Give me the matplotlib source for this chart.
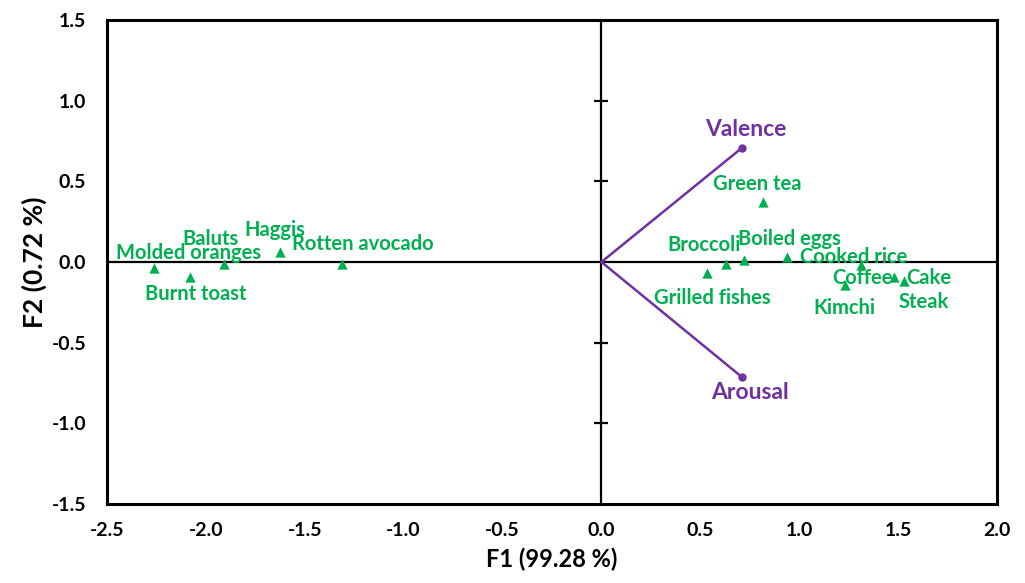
import matplotlib
matplotlib.use("Agg")
import matplotlib.pyplot as plt

plt.rcParams['font.family'] = ['Lato', 'DejaVu Sans']
plt.rcParams['font.weight'] = 'bold'

# Data
foods = ["Molded oranges", "Burnt toast", "Baluts", "Haggis", "Rotten avocado",
         "Green tea", "Grilled fishes", "Broccoli", "Boiled eggs", "Cooked rice",
         "Coffee", "Kimchi", "Cake", "Steak"]
f1 = [-2.26, -2.08, -1.91, -1.625, -1.31,
      0.817, 0.533, 0.63, 0.72, 0.94,
      1.31, 1.23, 1.48, 1.53]
f2 = [-0.04, -0.09, -0.01, 0.06, -0.01,
      0.37, -0.07, -0.01, 0.01, 0.03,
      -0.02, -0.14, -0.09, -0.12]

variables = ["Valence", "Arousal"]
var_f1 = [0.71, 0.71]
var_f2 = [0.707, -0.713]

xticks = [-2.5, -2.0, -1.5, -1.0, -0.5, 0.0, 0.5, 1.0, 1.5, 2.0]
yticks = [-1.5, -1.0, -0.5, 0.0, 0.5, 1.0, 1.5]

# label offsets in pixels (styling)
food_offsets = {
    "Molded oranges": (34, 15), "Burnt toast": (6, -17), "Baluts": (-13, 25),
    "Haggis": (-5, 22), "Rotten avocado": (20, 20), "Green tea": (-6, 18),
    "Grilled fishes": (5, -25), "Broccoli": (-22, 19), "Boiled eggs": (46, 21),
    "Cooked rice": (66, 0), "Coffee": (2, -13), "Kimchi": (0, -23),
    "Cake": (35, -1), "Steak": (20, -21),
}
var_offsets = {"Valence": (4, 18), "Arousal": (8, -15)}

GREEN = "#00B050"
PURPLE = "#7030A0"

fig = plt.figure(figsize=(10.25, 5.83), dpi=100)
ax = fig.add_axes([107/1025, 1 - 504/583, 890/1025, 484/583])
ax.set_xlim(-2.5, 2.0)
ax.set_ylim(-1.5, 1.5)

for s in ax.spines.values():
    s.set_linewidth(2.2)
    s.set_color("black")

ax.set_xticks(xticks)
ax.set_yticks(yticks)
ax.set_xticklabels([f"{v:.1f}" for v in xticks])
ax.set_yticklabels([f"{v:.1f}" for v in yticks])
ax.tick_params(axis='both', length=0, labelsize=14)
ax.tick_params(axis='x', pad=13)
ax.tick_params(axis='y', pad=15)

ax.axhline(0, color="black", lw=1.6, zorder=1)

sec = ax.secondary_yaxis(2.5/4.5)
sec.set_yticks([-1.0, -0.5, 0.5, 1.0])
sec.set_yticklabels([])
sec.tick_params(axis='y', direction='inout', length=10, width=1.6)
for s in sec.spines.values():
    s.set_linewidth(1.6)

ax.set_xlabel("F1 (99.28 %)", fontsize=17, fontweight='bold', labelpad=6)
ax.set_ylabel("F2 (0.72 %)", fontsize=19, fontweight='bold', labelpad=3)

# food points
ax.scatter(f1, f2, marker='^', s=55, color=GREEN, zorder=3, linewidths=0)
for name, x, y in zip(foods, f1, f2):
    dx, dy = food_offsets[name]
    ax.annotate(name, (x, y), xytext=(dx, dy), textcoords='offset pixels',
                ha='center', va='center', color=GREEN, fontsize=14.5,
                fontweight='bold', zorder=4)

# variable vectors
for name, x, y in zip(variables, var_f1, var_f2):
    ax.plot([0, x], [0, y], color=PURPLE, lw=1.8, zorder=2)
    ax.plot([x], [y], marker='o', ms=5, color=PURPLE, zorder=3)
    dx, dy = var_offsets[name]
    ax.annotate(name, (x, y), xytext=(dx, dy), textcoords='offset pixels',
                ha='center', va='center', color=PURPLE, fontsize=16.5,
                fontweight='bold', zorder=4)

fig.savefig("out.png", dpi=100)
